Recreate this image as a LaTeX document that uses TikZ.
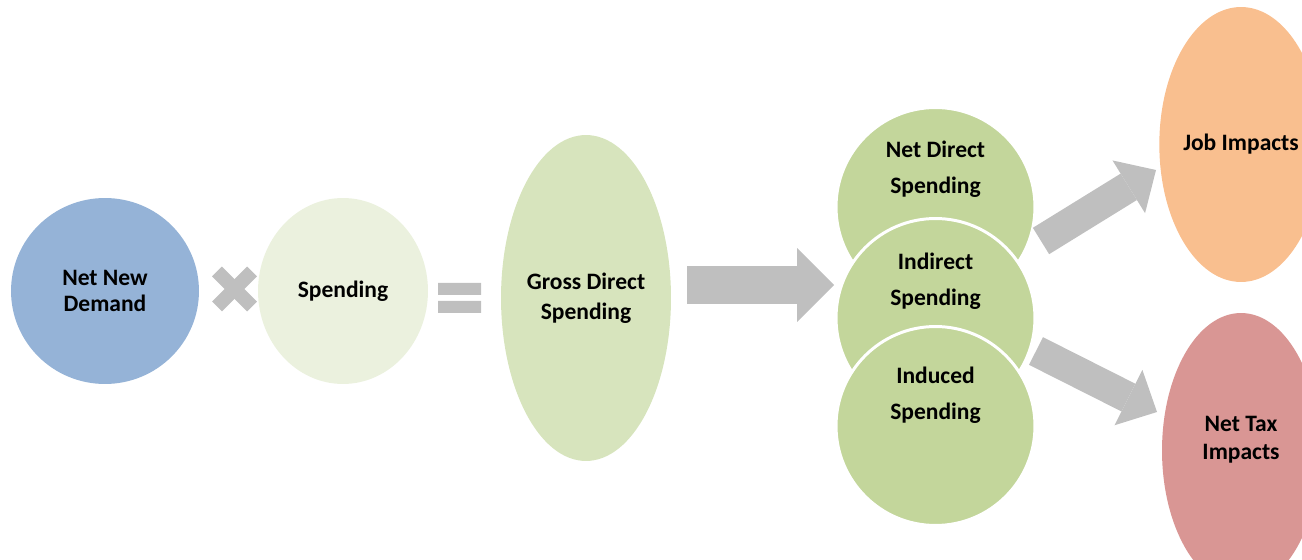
\documentclass[tikz,border=0pt]{standalone}
\usepackage{fontspec}
\setmainfont{Carlito}
\usetikzlibrary{arrows.meta,positioning,shapes.geometric}
\definecolor{demblue}{HTML}{95B3D7}
\definecolor{spendpale}{HTML}{EBF1DE}
\definecolor{grossgreen}{HTML}{D7E4BD}
\definecolor{stackgreen}{HTML}{C3D69B}
\definecolor{joborange}{HTML}{F9BF8F}
\definecolor{taxred}{HTML}{D99694}
\definecolor{flowgray}{HTML}{BFBFBF}
\tikzset{bubble/.style={ellipse,inner sep=0pt,align=center,font=\fontsize{13.4}{14.8}\selectfont\bfseries},
  stackc/.style={circle,draw=white,line width=1.7pt,fill=stackgreen,minimum size=3.98cm,inner sep=0pt},
  stacktext/.style={align=center,font=\fontsize{13.4}{20.5}\selectfont\bfseries},
  bigflow/.style={-{Triangle[width=1.48cm,length=0.74cm,line width=0pt]},line width=0.76cm,draw=flowgray},
  flow/.style={-{Triangle[width=1.24cm,length=0.64cm,line width=0pt]},line width=0.62cm,draw=flowgray},
  sign/.style={line width=0.28cm,draw=flowgray}}

\begin{document}
\begin{tikzpicture}[x=0.02cm,y=-0.02cm]
\useasboundingbox (0,0) rectangle (1302,560);
% inputs
\node[bubble,fill=demblue,minimum width=3.76cm,minimum height=3.72cm] (demand) at (105,291) {Net New\\Demand};
\node[bubble,fill=spendpale,minimum width=3.4cm,minimum height=3.72cm] (spend) at (343,291) {Spending};
\node[bubble,fill=grossgreen,minimum width=3.4cm,minimum height=6.52cm,font=\fontsize{13.4}{17}\selectfont\bfseries] (gross) at (586,298) {Gross Direct\\Spending};
% times and equals
\coordinate (times) at (234.5,289);
\draw[sign] ([shift={(-17.5,-17.5)}]times) -- ([shift={(17.5,17.5)}]times);
\draw[sign] ([shift={(-17.5,17.5)}]times) -- ([shift={(17.5,-17.5)}]times);
\fill[flowgray] (438,283) rectangle (481,295) (438,301) rectangle (481,313);
% stacked spending
\node[stackc] (netdir) at (935.5,207) {};
\node[stackc] (indir) at (935.5,318) {};
\node[stackc] (induc) at (935.5,426) {};
\node[stacktext] (netdirtxt) at ([yshift=0.76cm]netdir.center) {Net Direct\\Spending};
\node[stacktext] (indirtxt) at ([yshift=0.73cm]indir.center) {Indirect\\Spending};
\node[stacktext] (inductxt) at ([yshift=0.62cm]induc.center) {Induced\\Spending};
% impacts
\node[bubble,fill=joborange,minimum width=3.16cm,minimum height=5.5cm] (job) at (1241,144.5) {Job Impacts};
\node[bubble,fill=taxred,minimum width=3.16cm,minimum height=5.5cm] (tax) at (1241,450.5) {};
\node[bubble,font=\fontsize{13.4}{16}\selectfont\bfseries] (taxtxt) at ([yshift=0.22cm]tax.center) {Net Tax\\Impacts};
% arrows
\coordinate (g0) at (687,285); \coordinate (g1) at (834,285);
\coordinate (j0) at (1041,241); \coordinate (j1) at (1156,170);
\coordinate (t0) at (1036,351); \coordinate (t1) at (1157,412);
\draw[bigflow] (g0) -- (g1);
\draw[flow] (j0) -- (j1);
\draw[flow] (t0) -- (t1);
\end{tikzpicture}
\end{document}
